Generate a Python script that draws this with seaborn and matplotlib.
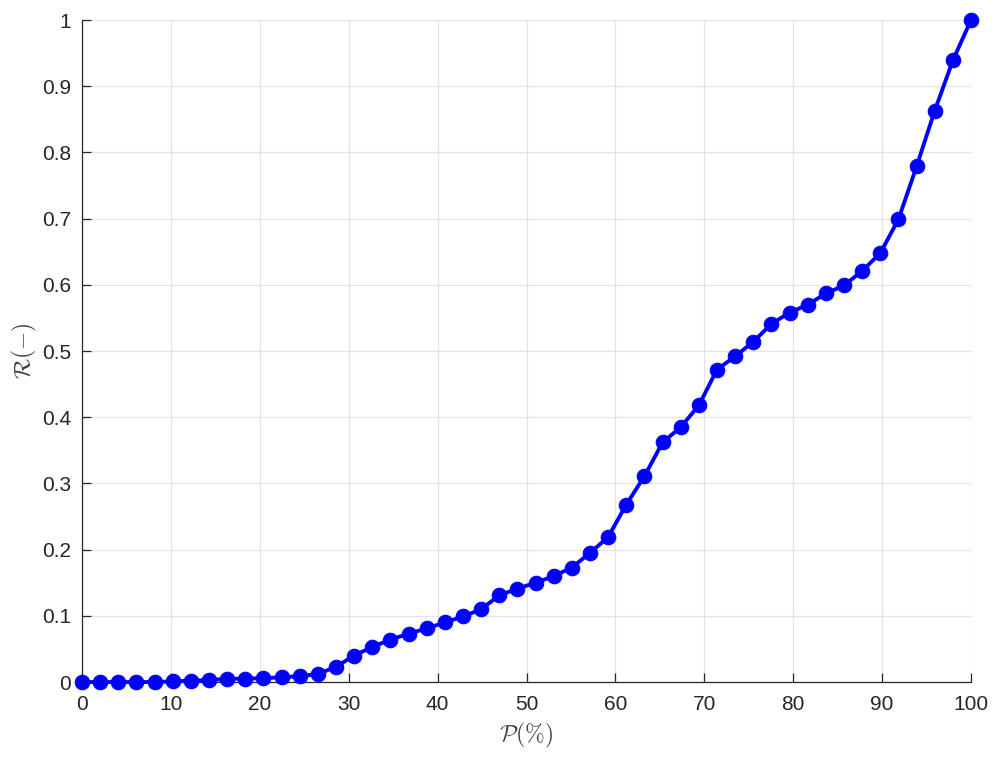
import numpy as np
import pandas as pd
import matplotlib
matplotlib.use("Agg")
import matplotlib.pyplot as plt
import seaborn as sns

# Data
p_percent = [0.00, 2.04, 4.08, 6.12, 8.16, 10.20, 12.24, 14.29, 16.33, 18.37,
             20.41, 22.45, 24.49, 26.53, 28.57, 30.61, 32.65, 34.69, 36.73, 38.78,
             40.82, 42.86, 44.90, 46.94, 48.98, 51.02, 53.06, 55.10, 57.14, 59.18,
             61.22, 63.27, 65.31, 67.35, 69.39, 71.43, 73.47, 75.51, 77.55, 79.59,
             81.63, 83.67, 85.71, 87.76, 89.80, 91.84, 93.88, 95.92, 97.96, 100.00]
r_values = [0.000, 0.000, 0.000, 0.000, 0.000, 0.001, 0.002, 0.003, 0.005, 0.005,
            0.006, 0.007, 0.009, 0.012, 0.023, 0.040, 0.053, 0.064, 0.073, 0.081,
            0.090, 0.099, 0.110, 0.131, 0.141, 0.150, 0.160, 0.173, 0.195, 0.219,
            0.268, 0.311, 0.362, 0.385, 0.418, 0.472, 0.492, 0.514, 0.541, 0.558,
            0.570, 0.587, 0.599, 0.621, 0.648, 0.699, 0.779, 0.863, 0.939, 1.000]
x_ticks = [0, 10, 20, 30, 40, 50, 60, 70, 80, 90, 100]
y_ticks = [0, 0.1, 0.2, 0.3, 0.4, 0.5, 0.6, 0.7, 0.8, 0.9, 1]
y_tick_labels = ["0", "0.1", "0.2", "0.3", "0.4", "0.5", "0.6", "0.7", "0.8", "0.9", "1"]

df = pd.DataFrame({"P": p_percent, "R": r_values})

sns.set_theme(style="white")
plt.rcParams['font.family'] = ['Liberation Sans', 'DejaVu Sans']
plt.rcParams['mathtext.fontset'] = 'cm'

fig = plt.figure(figsize=(10, 7.59), dpi=100)
ax = fig.add_axes([0.082, 0.1014, 0.889, 0.8722])

sns.lineplot(data=df, x="P", y="R", ax=ax, color="#0000ff", linewidth=2.8,
             marker="o", markersize=10.5, markeredgecolor="#0000ff",
             markerfacecolor="#0000ff", zorder=3, clip_on=False)

ax.set_xlim(0, 100)
ax.set_ylim(0, 1)
ax.set_xticks(x_ticks)
ax.set_xticklabels([str(t) for t in x_ticks])
ax.set_yticks(y_ticks)
ax.set_yticklabels(y_tick_labels)

ax.grid(True, color="#e3e3e3", linewidth=0.9)
ax.set_axisbelow(True)
for s in ["top", "right"]:
    ax.spines[s].set_visible(False)
for s in ["left", "bottom"]:
    ax.spines[s].set_color("#262626")
    ax.spines[s].set_linewidth(0.9)

ax.tick_params(axis="both", direction="in", length=6.5, width=0.9,
               color="#262626", labelcolor="#262626", labelsize=15,
               left=True, bottom=True)
ax.tick_params(axis="x", pad=9)
ax.tick_params(axis="y", pad=8)

ax.set_xlabel(r"$\mathcal{P}(\%)$", fontsize=17, color="#404040", labelpad=5)
ax.set_ylabel(r"$\mathcal{R}(-)$", fontsize=17, color="#404040", labelpad=2)

fig.savefig("out.png", dpi=100)
